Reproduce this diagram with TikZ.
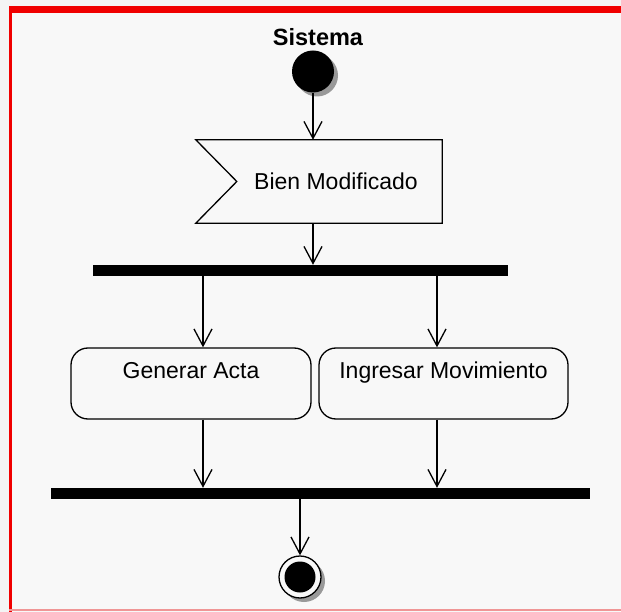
\documentclass[tikz,border=0pt]{standalone}
\usepackage{fontspec}
\setmainfont{Liberation Sans}
\usetikzlibrary{arrows.meta,shadows,calc}

\definecolor{paper}{RGB}{248,248,248}
\definecolor{outer}{RGB}{244,244,244}
\definecolor{framered}{RGB}{240,0,0}
\definecolor{framepink}{RGB}{240,150,150}

\tikzset{
  line/.style={draw=black, line width=1.3pt},
  arr/.style={line, -{Straight Barb[length=17pt,width=18pt,line width=1.3pt]}},
  lbl/.style={font=\fontsize{23}{27}\selectfont, inner sep=0pt},
  title/.style={font=\fontsize{23.5}{28}\selectfont\bfseries, inner sep=0pt},
  startnode/.style={circle, fill=black, minimum size=42pt, inner sep=0pt,
    drop shadow={shadow xshift=4pt, shadow yshift=-4pt, fill=black!40, opacity=1}},
  endnode/.style={circle, line, fill=paper, minimum size=42pt, inner sep=0pt,
    drop shadow={shadow xshift=4pt, shadow yshift=-4pt, fill=black!40, opacity=1}},
  endcore/.style={circle, fill=black, minimum size=31pt, inner sep=0pt},
  bar/.style={rectangle, fill=black, minimum height=11pt, inner sep=0pt},
  activity/.style={rectangle, line, rounded corners=17pt, fill=paper,
    font=\fontsize{23}{27}\selectfont, inner ysep=0pt, inner xsep=0pt,
    text height=30pt, text depth=41pt},
  flagbox/.style={rectangle, draw=none, minimum width=246pt, minimum height=83pt, inner sep=0pt},
}

\begin{document}
\begin{tikzpicture}[x=1pt,y=-1pt]
  % page and frame
  \fill[outer] (0,0) rectangle (621,612);
  \fill[paper] (9,6) rectangle (621,612);
  \fill[framered] (9,6) rectangle (621,13);
  \fill[framered] (9,6) rectangle (12,612);
  \fill[framepink] (9,608.5) rectangle (621,610.5);
  \useasboundingbox (0,0) rectangle (621,612);

  % swimlane title
  \node[title, anchor=base] (lane) at (318,46) {Sistema};

  % initial state
  \node[startnode] (start) at (313,71.5) {};

  % signal "Bien Modificado"
  \node[flagbox] (flag) at (319,181.5) {};
  \draw[line, fill=paper] (flag.north west) -- (flag.north east) -- (flag.south east)
    -- (flag.south west) -- ($(flag.west)+(41,0)$) -- cycle;
  \node[lbl, anchor=base] (flagtext) at (336,190) {Bien Modificado};

  % fork
  \node[bar, minimum width=415pt] (fork) at (300.5,270.5) {};

  % activities
  \node[activity, minimum width=240pt] (acta) at (191,383.5) {Generar Acta};
  \node[activity, minimum width=249pt] (mov) at (443.5,383.5) {Ingresar Movimiento};

  % join
  \node[bar, minimum width=539pt] (join) at (320.5,493.5) {};

  % final state
  \node[endnode] (end) at (300,577) {};
  \node[endcore] (endin) at (end.center) {};

  % branch positions
  \coordinate (b1) at (203,0);
  \coordinate (b2) at (437,0);

  % transitions
  \draw[arr] (start) -- (start |- flag.north);
  \draw[arr] (start |- flag.south) -- (start |- fork.north);
  \draw[arr] (b1 |- fork.south) -- (b1 |- acta.north);
  \draw[arr] (b2 |- fork.south) -- (b2 |- mov.north);
  \draw[arr] (b1 |- acta.south) -- (b1 |- join.north);
  \draw[arr] (b2 |- mov.south) -- (b2 |- join.north);
  \draw[arr] (end |- join.south) -- (end.north);
\end{tikzpicture}
\end{document}
